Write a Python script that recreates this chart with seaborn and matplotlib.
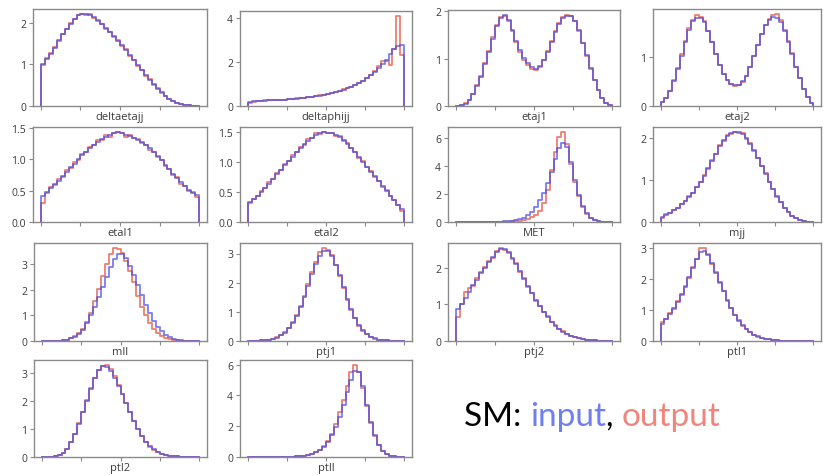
import numpy as np
import pandas as pd
import matplotlib
matplotlib.use("Agg")
import matplotlib.pyplot as plt
import seaborn as sns
from matplotlib.ticker import MultipleLocator, NullFormatter

# Kinematic variables, one panel each
variables = ["deltaetajj", "deltaphijj", "etaj1", "etaj2",
             "etal1", "etal2", "MET", "mjj",
             "mll", "ptj1", "ptj2", "ptl1",
             "ptl2", "ptll"]

# Normalised bin contents on a [0, 1] range (40 bins): input sample
deltaetajj_in = [1.02, 1.12, 1.25, 1.40, 1.58, 1.72, 1.85, 1.97, 2.08, 2.18, 2.21, 2.20, 2.19, 2.14, 2.06, 1.97, 1.88, 1.78, 1.68, 1.57,
                 1.46, 1.35, 1.22, 1.10, 0.98, 0.86, 0.74, 0.63, 0.52, 0.42, 0.33, 0.25, 0.18, 0.12, 0.08, 0.05, 0.03, 0.015, 0.008, 0.003]
deltaphijj_in = [0.20, 0.21, 0.22, 0.23, 0.24, 0.25, 0.26, 0.27, 0.28, 0.29, 0.30, 0.32, 0.33, 0.35, 0.37, 0.39, 0.41, 0.44, 0.47, 0.50,
                 0.54, 0.58, 0.63, 0.68, 0.74, 0.80, 0.87, 0.95, 1.04, 1.14, 1.26, 1.40, 1.56, 1.74, 1.92, 2.10, 2.35, 2.60, 2.72, 2.75]
etaj1_in = [0.01, 0.02, 0.05, 0.12, 0.25, 0.42, 0.62, 0.88, 1.15, 1.42, 1.68, 1.86, 1.92, 1.82, 1.60, 1.38, 1.18, 1.02, 0.90, 0.82,
            0.79, 0.84, 0.98, 1.15, 1.35, 1.56, 1.74, 1.86, 1.91, 1.90, 1.80, 1.60, 1.34, 1.08, 0.80, 0.55, 0.34, 0.17, 0.07, 0.02]
etaj2_in = [0.08, 0.16, 0.30, 0.50, 0.75, 1.02, 1.30, 1.55, 1.72, 1.80, 1.79, 1.70, 1.52, 1.30, 1.06, 0.84, 0.66, 0.53, 0.45, 0.42,
            0.43, 0.50, 0.62, 0.80, 1.02, 1.25, 1.47, 1.64, 1.76, 1.81, 1.80, 1.70, 1.52, 1.30, 1.06, 0.80, 0.56, 0.35, 0.18, 0.06]
etal1_in = [0.42, 0.48, 0.54, 0.60, 0.66, 0.73, 0.80, 0.87, 0.93, 1.00, 1.07, 1.12, 1.18, 1.23, 1.28, 1.32, 1.36, 1.38, 1.42, 1.44,
            1.41, 1.38, 1.37, 1.34, 1.31, 1.27, 1.22, 1.17, 1.11, 1.05, 0.98, 0.91, 0.84, 0.77, 0.70, 0.63, 0.57, 0.51, 0.46, 0.43]
etal2_in = [0.33, 0.38, 0.44, 0.50, 0.57, 0.64, 0.72, 0.80, 0.87, 0.95, 1.02, 1.09, 1.17, 1.24, 1.30, 1.36, 1.41, 1.46, 1.48, 1.50,
            1.49, 1.48, 1.45, 1.42, 1.37, 1.31, 1.24, 1.16, 1.08, 1.00, 0.92, 0.84, 0.76, 0.68, 0.60, 0.52, 0.44, 0.36, 0.29, 0.22]
MET_in = [0, 0, 0, 0, 0, 0, 0, 0, 0.01, 0.01, 0.02, 0.03, 0.04, 0.06, 0.09, 0.13, 0.20, 0.32, 0.50, 0.75,
          1.10, 1.55, 2.10, 2.80, 3.60, 4.50, 5.30, 5.70, 5.40, 4.30, 3.00, 1.95, 1.15, 0.62, 0.30, 0.13, 0.05, 0.02, 0.01, 0]
mjj_in = [0.12, 0.17, 0.22, 0.28, 0.34, 0.42, 0.50, 0.60, 0.70, 0.82, 0.95, 1.10, 1.28, 1.45, 1.62, 1.80, 1.94, 2.05, 2.11, 2.13,
          2.14, 2.10, 2.00, 1.86, 1.70, 1.52, 1.34, 1.15, 0.96, 0.78, 0.61, 0.47, 0.34, 0.23, 0.15, 0.09, 0.05, 0.03, 0.01, 0.005]
mll_in = [0, 0, 0, 0.005, 0.01, 0.02, 0.05, 0.10, 0.17, 0.28, 0.45, 0.70, 1.00, 1.35, 1.72, 2.10, 2.50, 2.90, 3.20, 3.40,
          3.42, 3.25, 2.95, 2.60, 2.20, 1.80, 1.42, 1.08, 0.80, 0.56, 0.38, 0.24, 0.14, 0.08, 0.04, 0.02, 0.01, 0.005, 0, 0]
ptj1_in = [0, 0.005, 0.01, 0.02, 0.03, 0.05, 0.08, 0.12, 0.19, 0.29, 0.43, 0.62, 0.87, 1.17, 1.52, 1.90, 2.30, 2.65, 2.93, 3.08,
           3.08, 2.92, 2.62, 2.25, 1.85, 1.45, 1.10, 0.80, 0.55, 0.37, 0.24, 0.15, 0.09, 0.05, 0.03, 0.02, 0.01, 0.005, 0, 0]
ptj2_in = [0.87, 1.02, 1.18, 1.35, 1.52, 1.68, 1.85, 2.00, 2.15, 2.30, 2.42, 2.50, 2.50, 2.42, 2.28, 2.10, 1.90, 1.70, 1.50, 1.30,
           1.12, 0.95, 0.80, 0.66, 0.53, 0.42, 0.33, 0.25, 0.18, 0.13, 0.10, 0.07, 0.05, 0.04, 0.03, 0.02, 0.01, 0.01, 0.005, 0]
ptl1_in = [0.55, 0.72, 0.88, 1.05, 1.25, 1.50, 1.75, 2.05, 2.35, 2.62, 2.85, 2.88, 2.75, 2.50, 2.20, 1.90, 1.60, 1.32, 1.06, 0.84,
           0.65, 0.50, 0.38, 0.28, 0.20, 0.15, 0.10, 0.07, 0.05, 0.03, 0.02, 0.015, 0.01, 0.01, 0.005, 0.005, 0, 0, 0, 0]
ptl2_in = [0, 0.005, 0.01, 0.03, 0.07, 0.15, 0.30, 0.52, 0.82, 1.18, 1.58, 2.00, 2.42, 2.80, 3.10, 3.24, 3.20, 3.05, 2.80, 2.52,
           2.22, 1.90, 1.58, 1.28, 1.00, 0.76, 0.55, 0.39, 0.27, 0.18, 0.12, 0.08, 0.05, 0.03, 0.02, 0.01, 0.01, 0.005, 0, 0]
ptll_in = [0, 0, 0, 0, 0, 0.005, 0.005, 0.01, 0.01, 0.015, 0.02, 0.03, 0.04, 0.06, 0.09, 0.13, 0.20, 0.30, 0.45, 0.68,
           1.00, 1.42, 1.95, 2.60, 3.35, 4.20, 5.00, 5.60, 5.50, 4.60, 3.40, 2.30, 1.40, 0.80, 0.42, 0.20, 0.09, 0.04, 0.02, 0.01]

# Same binning: generated output sample
deltaetajj_out = [0.98, 1.15, 1.27, 1.42, 1.56, 1.74, 1.86, 1.99, 2.10, 2.19, 2.22, 2.19, 2.20, 2.12, 2.05, 1.98, 1.86, 1.79, 1.66, 1.58,
                  1.45, 1.36, 1.21, 1.11, 0.97, 0.87, 0.73, 0.64, 0.51, 0.43, 0.32, 0.25, 0.18, 0.12, 0.08, 0.05, 0.03, 0.015, 0.008, 0.003]
deltaphijj_out = [0.12, 0.20, 0.22, 0.23, 0.25, 0.25, 0.27, 0.27, 0.29, 0.29, 0.31, 0.32, 0.34, 0.35, 0.38, 0.39, 0.42, 0.44, 0.48, 0.50,
                  0.55, 0.58, 0.64, 0.68, 0.75, 0.80, 0.88, 0.95, 1.05, 1.14, 1.28, 1.42, 1.60, 1.80, 2.05, 2.05, 1.85, 2.60, 4.10, 2.30]
etaj1_out = [0.01, 0.02, 0.06, 0.13, 0.26, 0.44, 0.63, 0.90, 1.17, 1.45, 1.70, 1.87, 1.91, 1.80, 1.58, 1.35, 1.15, 0.98, 0.86, 0.78,
             0.76, 0.82, 0.97, 1.16, 1.37, 1.58, 1.76, 1.88, 1.93, 1.91, 1.79, 1.58, 1.32, 1.06, 0.79, 0.54, 0.33, 0.16, 0.07, 0.02]
etaj2_out = [0.08, 0.17, 0.31, 0.52, 0.78, 1.05, 1.33, 1.59, 1.76, 1.85, 1.82, 1.72, 1.53, 1.30, 1.05, 0.83, 0.65, 0.52, 0.44, 0.41,
             0.42, 0.49, 0.61, 0.79, 1.01, 1.24, 1.47, 1.65, 1.78, 1.85, 1.88, 1.74, 1.55, 1.32, 1.07, 0.80, 0.56, 0.35, 0.18, 0.06]
etal1_out = [0.30, 0.46, 0.55, 0.59, 0.68, 0.72, 0.82, 0.86, 0.95, 0.99, 1.09, 1.11, 1.20, 1.22, 1.30, 1.31, 1.38, 1.36, 1.41, 1.43,
             1.41, 1.36, 1.38, 1.33, 1.32, 1.25, 1.23, 1.15, 1.12, 1.03, 0.99, 0.89, 0.85, 0.75, 0.71, 0.61, 0.58, 0.50, 0.47, 0.40]
etal2_out = [0.31, 0.39, 0.43, 0.52, 0.56, 0.66, 0.71, 0.82, 0.86, 0.97, 1.01, 1.11, 1.16, 1.26, 1.29, 1.38, 1.40, 1.48, 1.47, 1.51,
             1.48, 1.49, 1.44, 1.43, 1.36, 1.32, 1.23, 1.17, 1.07, 1.01, 0.91, 0.85, 0.75, 0.69, 0.59, 0.53, 0.43, 0.37, 0.28, 0.18]
MET_out = [0, 0, 0, 0, 0, 0, 0, 0, 0, 0.01, 0.01, 0.02, 0.02, 0.03, 0.04, 0.06, 0.09, 0.14, 0.22, 0.34,
           0.52, 0.82, 1.35, 2.30, 3.70, 5.00, 6.10, 6.50, 5.60, 4.20, 2.90, 1.85, 1.10, 0.58, 0.28, 0.12, 0.04, 0.01, 0, 0]
mjj_out = [0.10, 0.18, 0.21, 0.29, 0.33, 0.43, 0.49, 0.62, 0.69, 0.84, 0.94, 1.12, 1.27, 1.47, 1.61, 1.82, 1.93, 2.07, 2.10, 2.15,
           2.12, 2.11, 1.98, 1.87, 1.68, 1.53, 1.32, 1.16, 0.94, 0.79, 0.60, 0.48, 0.33, 0.24, 0.15, 0.09, 0.05, 0.03, 0.01, 0.005]
mll_out = [0, 0, 0, 0.005, 0.01, 0.02, 0.05, 0.10, 0.18, 0.30, 0.48, 0.75, 1.10, 1.55, 2.05, 2.55, 3.00, 3.40, 3.66, 3.62,
           3.45, 3.15, 2.75, 2.30, 1.75, 1.35, 1.00, 0.72, 0.49, 0.32, 0.20, 0.12, 0.07, 0.04, 0.02, 0.01, 0, 0, 0, 0]
ptj1_out = [0, 0.005, 0.01, 0.02, 0.03, 0.05, 0.08, 0.13, 0.20, 0.30, 0.45, 0.64, 0.90, 1.20, 1.56, 1.95, 2.35, 2.72, 3.05, 3.20,
            3.12, 2.95, 2.60, 2.22, 1.82, 1.42, 1.07, 0.78, 0.53, 0.36, 0.23, 0.14, 0.08, 0.05, 0.03, 0.02, 0.01, 0.005, 0, 0]
ptj2_out = [0.65, 1.00, 1.35, 1.45, 1.50, 1.72, 1.88, 2.02, 2.18, 2.28, 2.45, 2.55, 2.48, 2.40, 2.25, 2.12, 1.88, 1.72, 1.48, 1.31,
            1.10, 0.96, 0.79, 0.67, 0.52, 0.43, 0.32, 0.26, 0.18, 0.13, 0.10, 0.07, 0.05, 0.04, 0.03, 0.02, 0.01, 0.01, 0.005, 0]
ptl1_out = [0.60, 0.70, 0.90, 1.03, 1.28, 1.48, 1.78, 2.03, 2.38, 2.65, 2.98, 3.00, 2.80, 2.48, 2.22, 1.88, 1.62, 1.30, 1.07, 0.83,
            0.66, 0.49, 0.38, 0.28, 0.20, 0.14, 0.10, 0.07, 0.05, 0.03, 0.02, 0.015, 0.01, 0.01, 0.005, 0.005, 0, 0, 0, 0]
ptl2_out = [0, 0.005, 0.01, 0.03, 0.07, 0.15, 0.30, 0.52, 0.83, 1.20, 1.60, 2.02, 2.45, 2.82, 3.10, 3.22, 3.28, 3.12, 2.86, 2.56,
            2.24, 1.92, 1.58, 1.27, 0.99, 0.74, 0.53, 0.37, 0.25, 0.17, 0.11, 0.07, 0.05, 0.03, 0.02, 0.01, 0.005, 0, 0, 0]
ptll_out = [0, 0, 0, 0, 0, 0.005, 0.005, 0.01, 0.01, 0.015, 0.02, 0.03, 0.04, 0.06, 0.09, 0.13, 0.20, 0.30, 0.46, 0.70,
            1.05, 1.52, 2.15, 2.90, 3.70, 4.60, 5.50, 6.00, 5.50, 4.50, 3.30, 2.20, 1.35, 0.76, 0.40, 0.19, 0.08, 0.04, 0.02, 0.01]

inputs = [deltaetajj_in, deltaphijj_in, etaj1_in, etaj2_in, etal1_in, etal2_in, MET_in,
          mjj_in, mll_in, ptj1_in, ptj2_in, ptl1_in, ptl2_in, ptll_in]
outputs = [deltaetajj_out, deltaphijj_out, etaj1_out, etaj2_out, etal1_out, etal2_out, MET_out,
           mjj_out, mll_out, ptj1_out, ptj2_out, ptl1_out, ptl2_out, ptll_out]

# y tick spacing per panel
y_steps = [1, 2, 1, 1, 0.5, 0.5, 2, 1, 1, 1, 1, 1, 1, 2]

# ---- layout (pixels) ----
W, H = 827, 477
# axes boxes: left, top, right, bottom
boxes = [
    (33, 10, 207, 107), (240, 12, 412, 107), (448, 11, 620, 107), (653, 10, 821, 107),
    (33, 128, 207, 223), (240, 128, 412, 223), (448, 128, 620, 223), (653, 128, 821, 223),
    (34, 244, 207, 342), (240, 244, 412, 342), (448, 244, 620, 342), (653, 244, 821, 342),
    (34, 361, 207, 458), (240, 361, 412, 458),
]

COLOR_IN = "#4a4ae6"
COLOR_OUT = "#e8604e"
SPINE = "#8a8a8a"
TEXT = "#3c3c3c"

plt.rcParams["font.family"] = ["Open Sans", "DejaVu Sans"]

fig = plt.figure(figsize=(W / 100, H / 100), dpi=100)
fig.patch.set_facecolor("white")


def draw_hist(ax, values, color, alpha):
    n = len(values)
    inner = np.linspace(0.0, 1.0, n + 1)
    eps = 1e-5
    # thin empty bins on both sides close the outline down to zero
    edges = np.concatenate([[-eps], inner, [1.0 + eps]])
    frame = pd.DataFrame({
        "x": 0.5 * (edges[:-1] + edges[1:]),
        "w": np.concatenate([[0.0], np.asarray(values, float), [0.0]]),
    })
    sns.histplot(data=frame, x="x", weights="w", bins=edges.tolist(), element="step",
                 fill=False, color=color, alpha=alpha, linewidth=1.3, ax=ax)


for i, name in enumerate(variables):
    l, t, r, b = boxes[i]
    ax = fig.add_axes([l / W, 1 - b / H, (r - l) / W, (b - t) / H])

    draw_hist(ax, outputs[i], COLOR_OUT, 0.8)
    draw_hist(ax, inputs[i], COLOR_IN, 0.72)

    ax.set_xlim(-0.05, 1.05)
    top = 1.05 * max(max(inputs[i]), max(outputs[i]))
    ax.set_ylim(0, top)

    ax.set_xticks([0, 0.25, 0.5, 0.75, 1.0])
    ax.xaxis.set_major_formatter(NullFormatter())
    ax.yaxis.set_major_locator(MultipleLocator(y_steps[i]))
    ax.tick_params(axis="both", direction="out", length=3, width=0.8,
                   color=SPINE, labelsize=7.5, labelcolor=TEXT, pad=2)
    for sp in ax.spines.values():
        sp.set_color(SPINE)
        sp.set_linewidth(1.0)
    ax.set_ylabel("")
    ax.set_xlabel(name, fontsize=8, color=TEXT, labelpad=-1.5)
    ax.set_facecolor("white")

# caption built from coloured pieces
fig.canvas.draw()
renderer = fig.canvas.get_renderer()
pieces = [("SM: ", "black"), ("input", "#6f7ff0"), (", ", "black"), ("output", "#f0857c")]
x = 464.0
for txt, col in pieces:
    tt = fig.text(x / W, 1 - 426 / H, txt, fontsize=24, color=col,
                  family=["Lato", "DejaVu Sans"], ha="left", va="baseline")
    bb = tt.get_window_extent(renderer)
    x += bb.width

fig.savefig("out.png", dpi=100, facecolor="white")
